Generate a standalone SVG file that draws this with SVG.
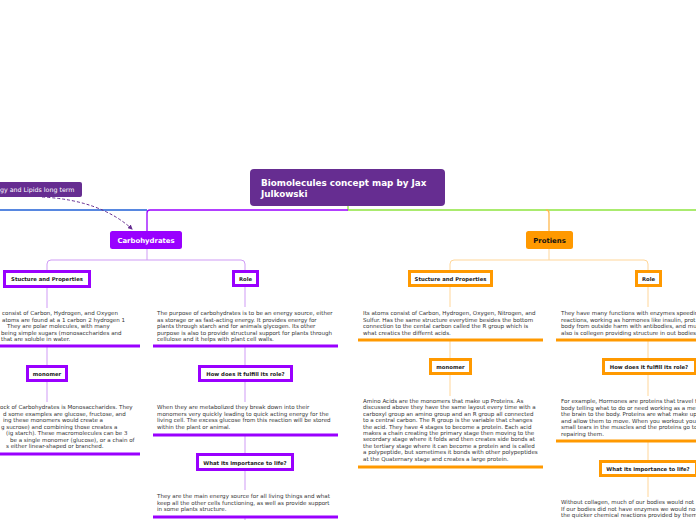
<svg xmlns="http://www.w3.org/2000/svg" width="696" height="520" viewBox="0 0 696 520">
<defs>
<style>
.body{font-family:"DejaVu Sans",Verdana,sans-serif;font-size:5.55px;fill:#333}
.lbl{font-family:"DejaVu Sans",Verdana,sans-serif;font-size:5.3px;font-weight:bold;fill:#222;text-anchor:middle}
.cbox{fill:#fff;stroke:#9900ff;stroke-width:3}
.pbox{fill:#fff;stroke:#ff9900;stroke-width:3}
.cul{stroke:#9900ff;stroke-width:3}
.pul{stroke:#ff9900;stroke-width:3}
.clc{stroke:#cf9bf5;stroke-width:1;fill:none}
.plc{stroke:#ffd699;stroke-width:1;fill:none}
</style>
<marker id="arr" viewBox="0 0 10 10" refX="8" refY="5" markerWidth="5" markerHeight="5" orient="auto">
<path d="M0,0 L10,5 L0,10 z" fill="#662d91"/>
</marker>
</defs>
<rect width="696" height="520" fill="#fff"/>

<g id="connectors">
<line x1="0" y1="210" x2="147" y2="210" stroke="#1f5fd6" stroke-width="1.3"/>
<path d="M348,206 V210 H549" stroke="#8ee53f" stroke-width="1.3" fill="none"/>
<line x1="549" y1="210" x2="696" y2="210" stroke="#8ee53f" stroke-width="1.3"/>
<path d="M348,210 H150 Q147,210 147,213 V231" stroke="#9900ff" stroke-width="1.3" fill="none"/>
<path d="M546,210 Q549,210 549,213 V231" stroke="#ffb84d" stroke-width="1.3" fill="none"/>
<path d="M42,197 Q100,200 132,229" stroke="#662d91" stroke-width="1" stroke-dasharray="3,2" fill="none" marker-end="url(#arr)"/>
<path class="clc" d="M147,249 V260 M47,271 V264 Q47,260 51,260 H241 Q245,260 245,264 V270"/>
<path class="clc" d="M47,287 V308 M47,346 V365 M47,382 V402"/>
<path class="clc" d="M245,287 V307 M245,346 V365 M245,382 V402 M245,435 V453 M245,471 V490 M245,517 V520"/>
<path class="plc" d="M549,249 V260 M450,271 V264 Q450,260 454,260 H644 Q648,260 648,264 V270"/>
<path class="plc" d="M450,287 V307 M450,340 V358 M450,375 V396"/>
<path class="plc" d="M648,287 V307 M648,340 V359 M648,375 V396 M648,441 V460 M648,477 V497"/>
</g>

<g id="lipids-node">
<rect x="-6" y="182" width="88" height="15" rx="2" fill="#662d91"/>
<text x="0" y="192" font-family="DejaVu Sans,Verdana,sans-serif" font-size="6.3" fill="#fff">gy and Lipids long term</text>
</g>

<g id="center-node">
<rect x="250" y="169" width="195" height="37" rx="4" fill="#662d91"/>
<text font-family="DejaVu Sans,Verdana,sans-serif" font-size="8.8" font-weight="bold" fill="#fff"><tspan x="261" y="186">Biomolecules concept map by Jax</tspan><tspan x="261" y="197">Julkowski</tspan></text>
</g>

<g id="carbohydrates">
<rect x="110" y="231" width="72" height="18" rx="2.5" fill="#9900ff"/>
<text x="146" y="243" text-anchor="middle" font-family="DejaVu Sans,Verdana,sans-serif" font-size="6.9" font-weight="bold" fill="#fff">Carbohydrates</text>
</g>

<g id="protiens">
<rect x="526" y="231" width="47" height="18" rx="2.5" fill="#ff9900"/>
<text x="549.5" y="243" text-anchor="middle" font-family="DejaVu Sans,Verdana,sans-serif" font-size="6.9" font-weight="bold" fill="#111">Protiens</text>
</g>

<g id="carb-structure">
<rect class="cbox" x="4.5" y="271.5" width="85" height="15"/>
<text class="lbl" x="47" y="281">Stucture and Properties</text>
<text class="body"><tspan x="2" y="315">consist of Carbon, Hydrogen, and Oxygen</tspan><tspan x="2" y="321.5">atoms are found at a 1 carbon 2 hydrogen 1</tspan><tspan x="7" y="328">They are polar molecules, with many</tspan><tspan x="1" y="334.5">being simple sugars (monosaccharides and</tspan><tspan x="1" y="341">that are soluble in water.</tspan></text>
<line class="cul" x1="0" y1="346" x2="140" y2="346"/>
</g>

<g id="carb-monomer">
<rect class="cbox" x="27.5" y="366.5" width="39" height="14"/>
<text class="lbl" x="47" y="376">monomer</text>
<text class="body"><tspan x="0" y="409">ock of Carbohydrates is Monosaccharides.  They</tspan><tspan x="3" y="415.5">d some examples are glucose, fructose, and</tspan><tspan x="3" y="422">ing these monomers would create a</tspan><tspan x="1" y="428.5">g sucrose) and combining those creates a</tspan><tspan x="6" y="435">(ig starch). These macromolecules can be 3</tspan><tspan x="10" y="441.5">be a single monomer (glucose), or a chain of</tspan><tspan x="6" y="448">s either linear-shaped or branched.</tspan></text>
<line class="cul" x1="0" y1="454" x2="140" y2="454"/>
</g>

<g id="carb-role">
<rect class="cbox" x="233.5" y="271.5" width="24" height="14"/>
<text class="lbl" x="245.5" y="281">Role</text>
<text class="body"><tspan x="157" y="315">The purpose of carbohydrates is to be an energy source, either</tspan><tspan x="157" y="321.5">as storage or as fast-acting energy. It provides energy for</tspan><tspan x="157" y="328">plants through starch and for animals glycogen. Its other</tspan><tspan x="157" y="334.5">purpose is also to provide structural support for plants through</tspan><tspan x="157" y="341">cellulose and it helps with plant cell walls.</tspan></text>
<line class="cul" x1="153" y1="346" x2="338" y2="346"/>
</g>

<g id="carb-fulfill">
<rect class="cbox" x="199.5" y="366.5" width="92" height="14"/>
<text class="lbl" x="245.5" y="376">How does it fulfill its role?</text>
<text class="body"><tspan x="157" y="409">When they are metabolized they break down into their</tspan><tspan x="157" y="415.5">monomers very quickly leading to quick acting energy for the</tspan><tspan x="157" y="422">living cell. The excess glucose from this reaction will be stored</tspan><tspan x="157" y="428.5">within the plant or animal.</tspan></text>
<line class="cul" x1="153" y1="435" x2="338" y2="435"/>
</g>

<g id="carb-importance">
<rect class="cbox" x="197.5" y="454.5" width="95" height="15"/>
<text class="lbl" x="245" y="464.5">What its importance to life?</text>
<text class="body"><tspan x="157" y="498">They are the main energy source for all living things and what</tspan><tspan x="157" y="504.5">keep all the other cells functioning, as well as provide support</tspan><tspan x="157" y="511">in some plants structure.</tspan></text>
<line class="cul" x1="153" y1="517" x2="338" y2="517"/>
</g>

<g id="prot-structure">
<rect class="pbox" x="409.5" y="271.5" width="82" height="14"/>
<text class="lbl" x="450.5" y="281">Stucture and Properties</text>
<text class="body"><tspan x="363" y="315">Its atoms consist of Carbon, Hydrogen, Oxygen, Nitrogen, and</tspan><tspan x="363" y="321.5">Sulfur. Has the same structure everytime besides the bottom</tspan><tspan x="363" y="328">connection to the cental carbon called the R group which is</tspan><tspan x="363" y="334.5">what creatics the differnt acids.</tspan></text>
<line class="pul" x1="358" y1="340" x2="543" y2="340"/>
</g>

<g id="prot-monomer">
<rect class="pbox" x="430.5" y="359.5" width="40" height="14"/>
<text class="lbl" x="450.5" y="369">monomer</text>
<text class="body"><tspan x="363" y="403">Amino Acids are the monomers that make up Proteins. As</tspan><tspan x="363" y="409.4">discussed above they have the same layout every time with a</tspan><tspan x="363" y="415.8">carboxyl group an amino group and an R group all connected</tspan><tspan x="363" y="422.2">to a central carbon. The R group is the variable that changes</tspan><tspan x="363" y="428.6">the acid. They have 4 stages to become a protein. Each acid</tspan><tspan x="363" y="435">makes a chain creating the primary stage then moving to the</tspan><tspan x="363" y="441.4">secordary stage where it folds and then creates side bonds at</tspan><tspan x="363" y="447.8">the tertiary stage where it can become a protein and is called</tspan><tspan x="363" y="454.2">a polypeptide, but sometimes it bonds with other polypeptides</tspan><tspan x="363" y="460.6">at the Quaternary stage and creates a large protein.</tspan></text>
<line class="pul" x1="358" y1="467" x2="543" y2="467"/>
</g>

<g id="prot-role">
<rect class="pbox" x="636.5" y="271.5" width="24" height="14"/>
<text class="lbl" x="648.5" y="281">Role</text>
<text class="body"><tspan x="561" y="315">They have many functions with enzymes speedin</tspan><tspan x="561" y="321.5">reactions, working as hormones like insulin, prot</tspan><tspan x="561" y="328">body from outside harm with antibodies, and mu</tspan><tspan x="561" y="334.5">also is collegen providing structure in out bodies</tspan></text>
<line class="pul" x1="556" y1="340" x2="696" y2="340"/>
</g>

<g id="prot-fulfill">
<rect class="pbox" x="603.5" y="359.5" width="92" height="14"/>
<text class="lbl" x="649" y="369">How does it fulfill its role?</text>
<text class="body"><tspan x="561" y="403">For example, Hormones are proteins that travel t</tspan><tspan x="561" y="409.5">body telling what to do or need working as a me</tspan><tspan x="561" y="416">the brain to the body. Proteins are what make up</tspan><tspan x="561" y="422.5">and allow them to move. When you workout you</tspan><tspan x="561" y="429">small tears in the muscles and the proteins go to</tspan><tspan x="561" y="435.5">repairing them.</tspan></text>
<line class="pul" x1="556" y1="441" x2="696" y2="441"/>
</g>

<g id="prot-importance">
<rect class="pbox" x="600.5" y="461.5" width="96" height="14"/>
<text class="lbl" x="648" y="471">What its importance to life?</text>
<text class="body"><tspan x="561" y="504">Without collagen, much of our bodies would not</tspan><tspan x="561" y="510.5">If our bodies did not have enzymes we would no</tspan><tspan x="561" y="517">the quicker chemical reactions provided by them</tspan></text>
</g>
</svg>
